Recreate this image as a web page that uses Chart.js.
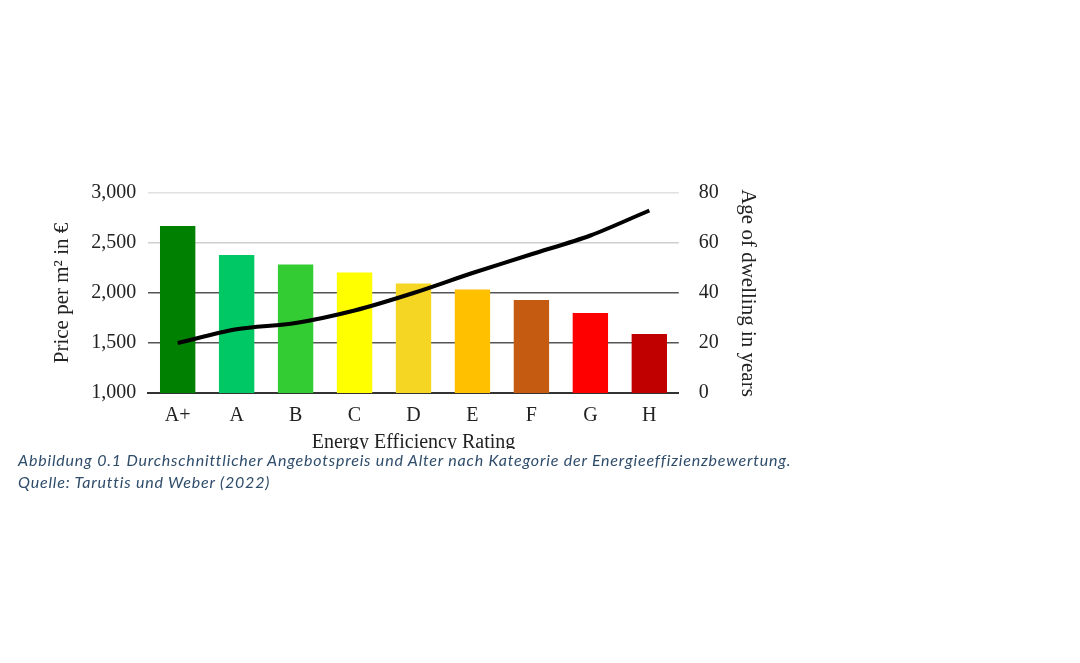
<!DOCTYPE html>
<html>
<head>
<meta charset="utf-8">
<script src="https://cdn.jsdelivr.net/npm/chart.js@4"></script>
<style>
  body { margin: 0; background: #fff; }
  #wrap { position: absolute; left: 0; top: 0; width: 1080px; height: 663px; }
  #caption {
    position: absolute; left: 18px; top: 449px; background: #fff;
    font-family: "Lato", sans-serif; font-style: italic; font-size: 16px;
    letter-spacing: 0.8px; color: #2f4d6b; line-height: 22px; padding-right: 10px;
  }
</style>
</head>
<body>
<div id="wrap"><canvas id="chart" width="1080" height="663"></canvas></div>
<div id="caption">Abbildung 0.1 Durchschnittlicher Angebotspreis und Alter nach Kategorie der Energieeffizienzbewertung.<br>Quelle: Taruttis und Weber (2022)</div>
<script>
// Kategorien und Werte
const categories = ["A+", "A", "B", "C", "D", "E", "F", "G", "H"];
const prices = [2670, 2380, 2285, 2205, 2095, 2035, 1930, 1800, 1590];
const ages = [20, 25.5, 28, 33, 40, 48, 55.5, 63, 73];
const barColors = ["#008000", "#00c864", "#33cc33", "#ffff00", "#f5d622", "#ffc000", "#c55a11", "#ff0000", "#c00000"];

const serif = { family: "Liberation Serif", size: 20 };

new Chart(document.getElementById("chart"), {
    data: {
        labels: categories,
        datasets: [
            {
                type: "line",
                data: ages,
                yAxisID: "y2",
                borderColor: "#000",
                borderWidth: 4,
                pointRadius: 0,
                tension: 0.3,
            },
            {
                type: "bar",
                data: prices,
                yAxisID: "y",
                backgroundColor: barColors,
                barPercentage: 0.6,
                categoryPercentage: 1,
            },
        ],
    },
    options: {
        responsive: false,
        animation: false,
        layout: { padding: { left: 46, top: 193, right: 316, bottom: 208 } },
        plugins: { legend: { display: false }, tooltip: { enabled: false } },
        scales: {
            x: {
                grid: { display: false },
                border: { color: "#333", width: 2 },
                ticks: { color: "#222", font: serif },
                title: { display: true, text: "Energy Efficiency Rating", color: "#222", font: serif, padding: 0 },
            },
            y: {
                min: 1000, max: 3000,
                ticks: { stepSize: 500, color: "#222", font: serif, padding: 12 },
                border: { display: false },
                grid: {
                    color: (c) => c.tick.value === 3000 ? "#e0e0e0" : (c.tick.value === 2500 ? "#cfcfcf" : "#555"),
                    lineWidth: (c) => c.tick.value === 1000 ? 2 : 1.5,
                    drawTicks: false,
                },
                title: { display: true, text: "Price per m² in €", color: "#222", font: { family: "Liberation Serif", size: 21 } },
            },
            y2: {
                position: "right",
                min: 0, max: 80,
                ticks: { stepSize: 20, color: "#222", font: serif, padding: 12 },
                border: { display: false },
                grid: { display: false },
                title: { display: true, text: "Age of dwelling in years", color: "#222", font: { family: "Liberation Serif", size: 21 } },
            },
        },
    },
});
</script>
</body>
</html>
